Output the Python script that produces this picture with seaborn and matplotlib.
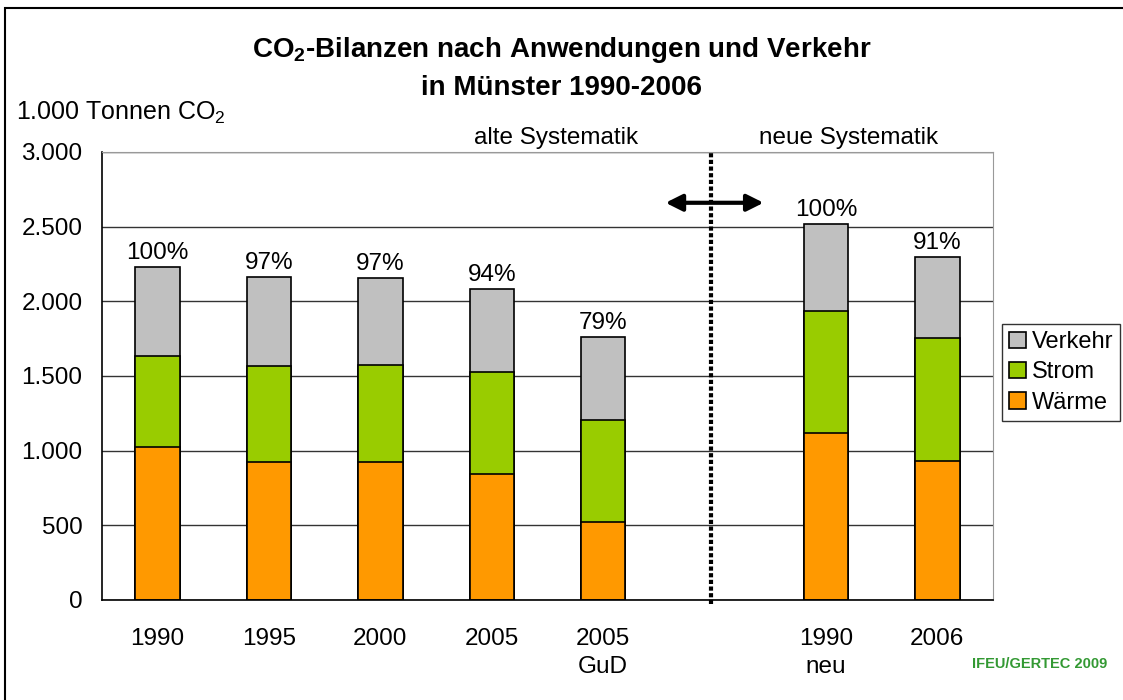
import pandas as pd
import matplotlib.pyplot as plt
import seaborn as sns
from matplotlib.patches import Rectangle

# values (1.000 t CO2)
categories = ["1990", "1995", "2000", "2005", "2005\nGuD", "", "1990\nneu", "2006"]
waerme = [1027, 925, 925, 846, 525, None, 1121, 931]
strom = [610, 641, 650, 684, 681, None, 817, 822]
verkehr = [594, 594, 582, 554, 554, None, 579, 543]
pct_labels = ["100%", "97%", "97%", "94%", "79%", "", "100%", "91%"]

c_waerme, c_strom, c_verkehr = "#FF9900", "#99CC00", "#C0C0C0"

df = pd.DataFrame({"Jahr": categories, "Wärme": waerme, "Strom": strom, "Verkehr": verkehr})
df = df[df["Jahr"] != ""]
df["Strom_top"] = df["Wärme"] + df["Strom"]
df["Total"] = df["Strom_top"] + df["Verkehr"]

sns.set_style("white")
plt.rcParams["font.family"] = ["Liberation Sans", "DejaVu Sans"]
plt.rcParams["mathtext.fontset"] = "custom"
plt.rcParams["mathtext.rm"] = "Liberation Sans"
plt.rcParams["mathtext.bf"] = "Liberation Sans:bold"
plt.rcParams["text.color"] = "black"
plt.rcParams["xtick.color"] = "black"
plt.rcParams["ytick.color"] = "black"

fig = plt.figure(figsize=(11.23, 7.0), dpi=100)
ax = fig.add_axes([102 / 1123, 100 / 700, 891 / 1123, 448 / 700])

kw = dict(x="Jahr", order=categories, width=0.4, edgecolor="black", linewidth=1.2,
          saturation=1, ax=ax)
sns.barplot(data=df, y="Total", color=c_verkehr, label="Verkehr", **kw)
sns.barplot(data=df, y="Strom_top", color=c_strom, label="Strom", **kw)
sns.barplot(data=df, y="Wärme", color=c_waerme, label="Wärme", **kw)

# percentage labels
tot = dict(zip(df["Jahr"], df["Total"]))
for i, (cat, lab) in enumerate(zip(categories, pct_labels)):
    if lab:
        ax.text(i, tot[cat] + 20, lab, ha="center", va="bottom", fontsize=17.5)

ax.set_ylim(0, 3000)
ax.set_xlim(-0.5, len(categories) - 0.5)
ax.set_yticks(range(0, 3001, 500))
ax.set_yticklabels([f"{v:,}".replace(",", ".") for v in range(0, 3001, 500)], fontsize=17.5)
ax.set_xticks([i - 0.5 for i in range(len(categories) + 1)])
ax.set_xticklabels([])
ax.set_xticks(range(len(categories)), minor=True)
ax.set_xticklabels(categories, minor=True, fontsize=17.5, linespacing=1.35)
ax.tick_params(axis="x", which="minor", length=0, pad=20.5)
ax.tick_params(axis="x", which="major", length=7, width=1, direction="out", color="black")
ax.tick_params(axis="y", length=5, width=1, direction="out", color="black", pad=9)
ax.set_xlabel("")
ax.set_ylabel("")

ax.grid(axis="y", color="#333333", linewidth=1)
ax.set_axisbelow(True)
for s in ["top", "right"]:
    ax.spines[s].set_color("#999999")
for s in ["left", "bottom"]:
    ax.spines[s].set_color("black")
    ax.spines[s].set_linewidth(1.2)

# separation of old and new systematics
ax.axvline(4.97, color="black", linestyle=(0, (1, 0.6)), linewidth=3, clip_on=False, ymin=-0.01)
ax.annotate("", xy=(4.56, 2660), xytext=(5.44, 2660),
            arrowprops=dict(arrowstyle="<|-|>,head_length=1.0,head_width=0.5", color="black", lw=3,
                            shrinkA=0, shrinkB=0))

leg = ax.legend(handles=[ax.containers[0], ax.containers[1], ax.containers[2]],
                labels=["Verkehr", "Strom", "Wärme"], loc="upper left",
                bbox_to_anchor=(1002 / 1123, 1 - 324 / 700), bbox_transform=fig.transFigure,
                fontsize=17, frameon=True, fancybox=False, edgecolor="black",
                handlelength=0.7, handleheight=0.7, handletextpad=0.25, labelspacing=0.35,
                borderpad=0.3, borderaxespad=0)
leg.get_frame().set_linewidth(1)

fig.text(0.5, 1 - 50 / 700, r"CO$_\mathbf{2}$-Bilanzen nach Anwendungen und Verkehr",
         ha="center", va="center", fontsize=20, fontweight="bold")
fig.text(0.5, 1 - 88 / 700, "in Münster 1990-2006", ha="center", va="center",
         fontsize=20, fontweight="bold")
fig.text(16 / 1123, 1 - 113 / 700, r"1.000 Tonnen CO$_\mathrm{2}$", ha="left", va="center", fontsize=18)
fig.text(556 / 1123, 1 - 138 / 700, "alte Systematik", ha="center", va="center", fontsize=17.5)
fig.text(849 / 1123, 1 - 138 / 700, "neue Systematik", ha="center", va="center", fontsize=17.5)
fig.text(1040 / 1123, 1 - 664 / 700, "IFEU/GERTEC 2009", ha="center", va="center",
         fontsize=10.5, fontweight="bold", color="#339933")

fig.patches.append(Rectangle((5 / 1123, -0.1), 1.2, 1 - 8 / 700 + 0.1, transform=fig.transFigure,
                             fill=False, edgecolor="black", linewidth=1.5))

fig.savefig("out.png", dpi=100)
